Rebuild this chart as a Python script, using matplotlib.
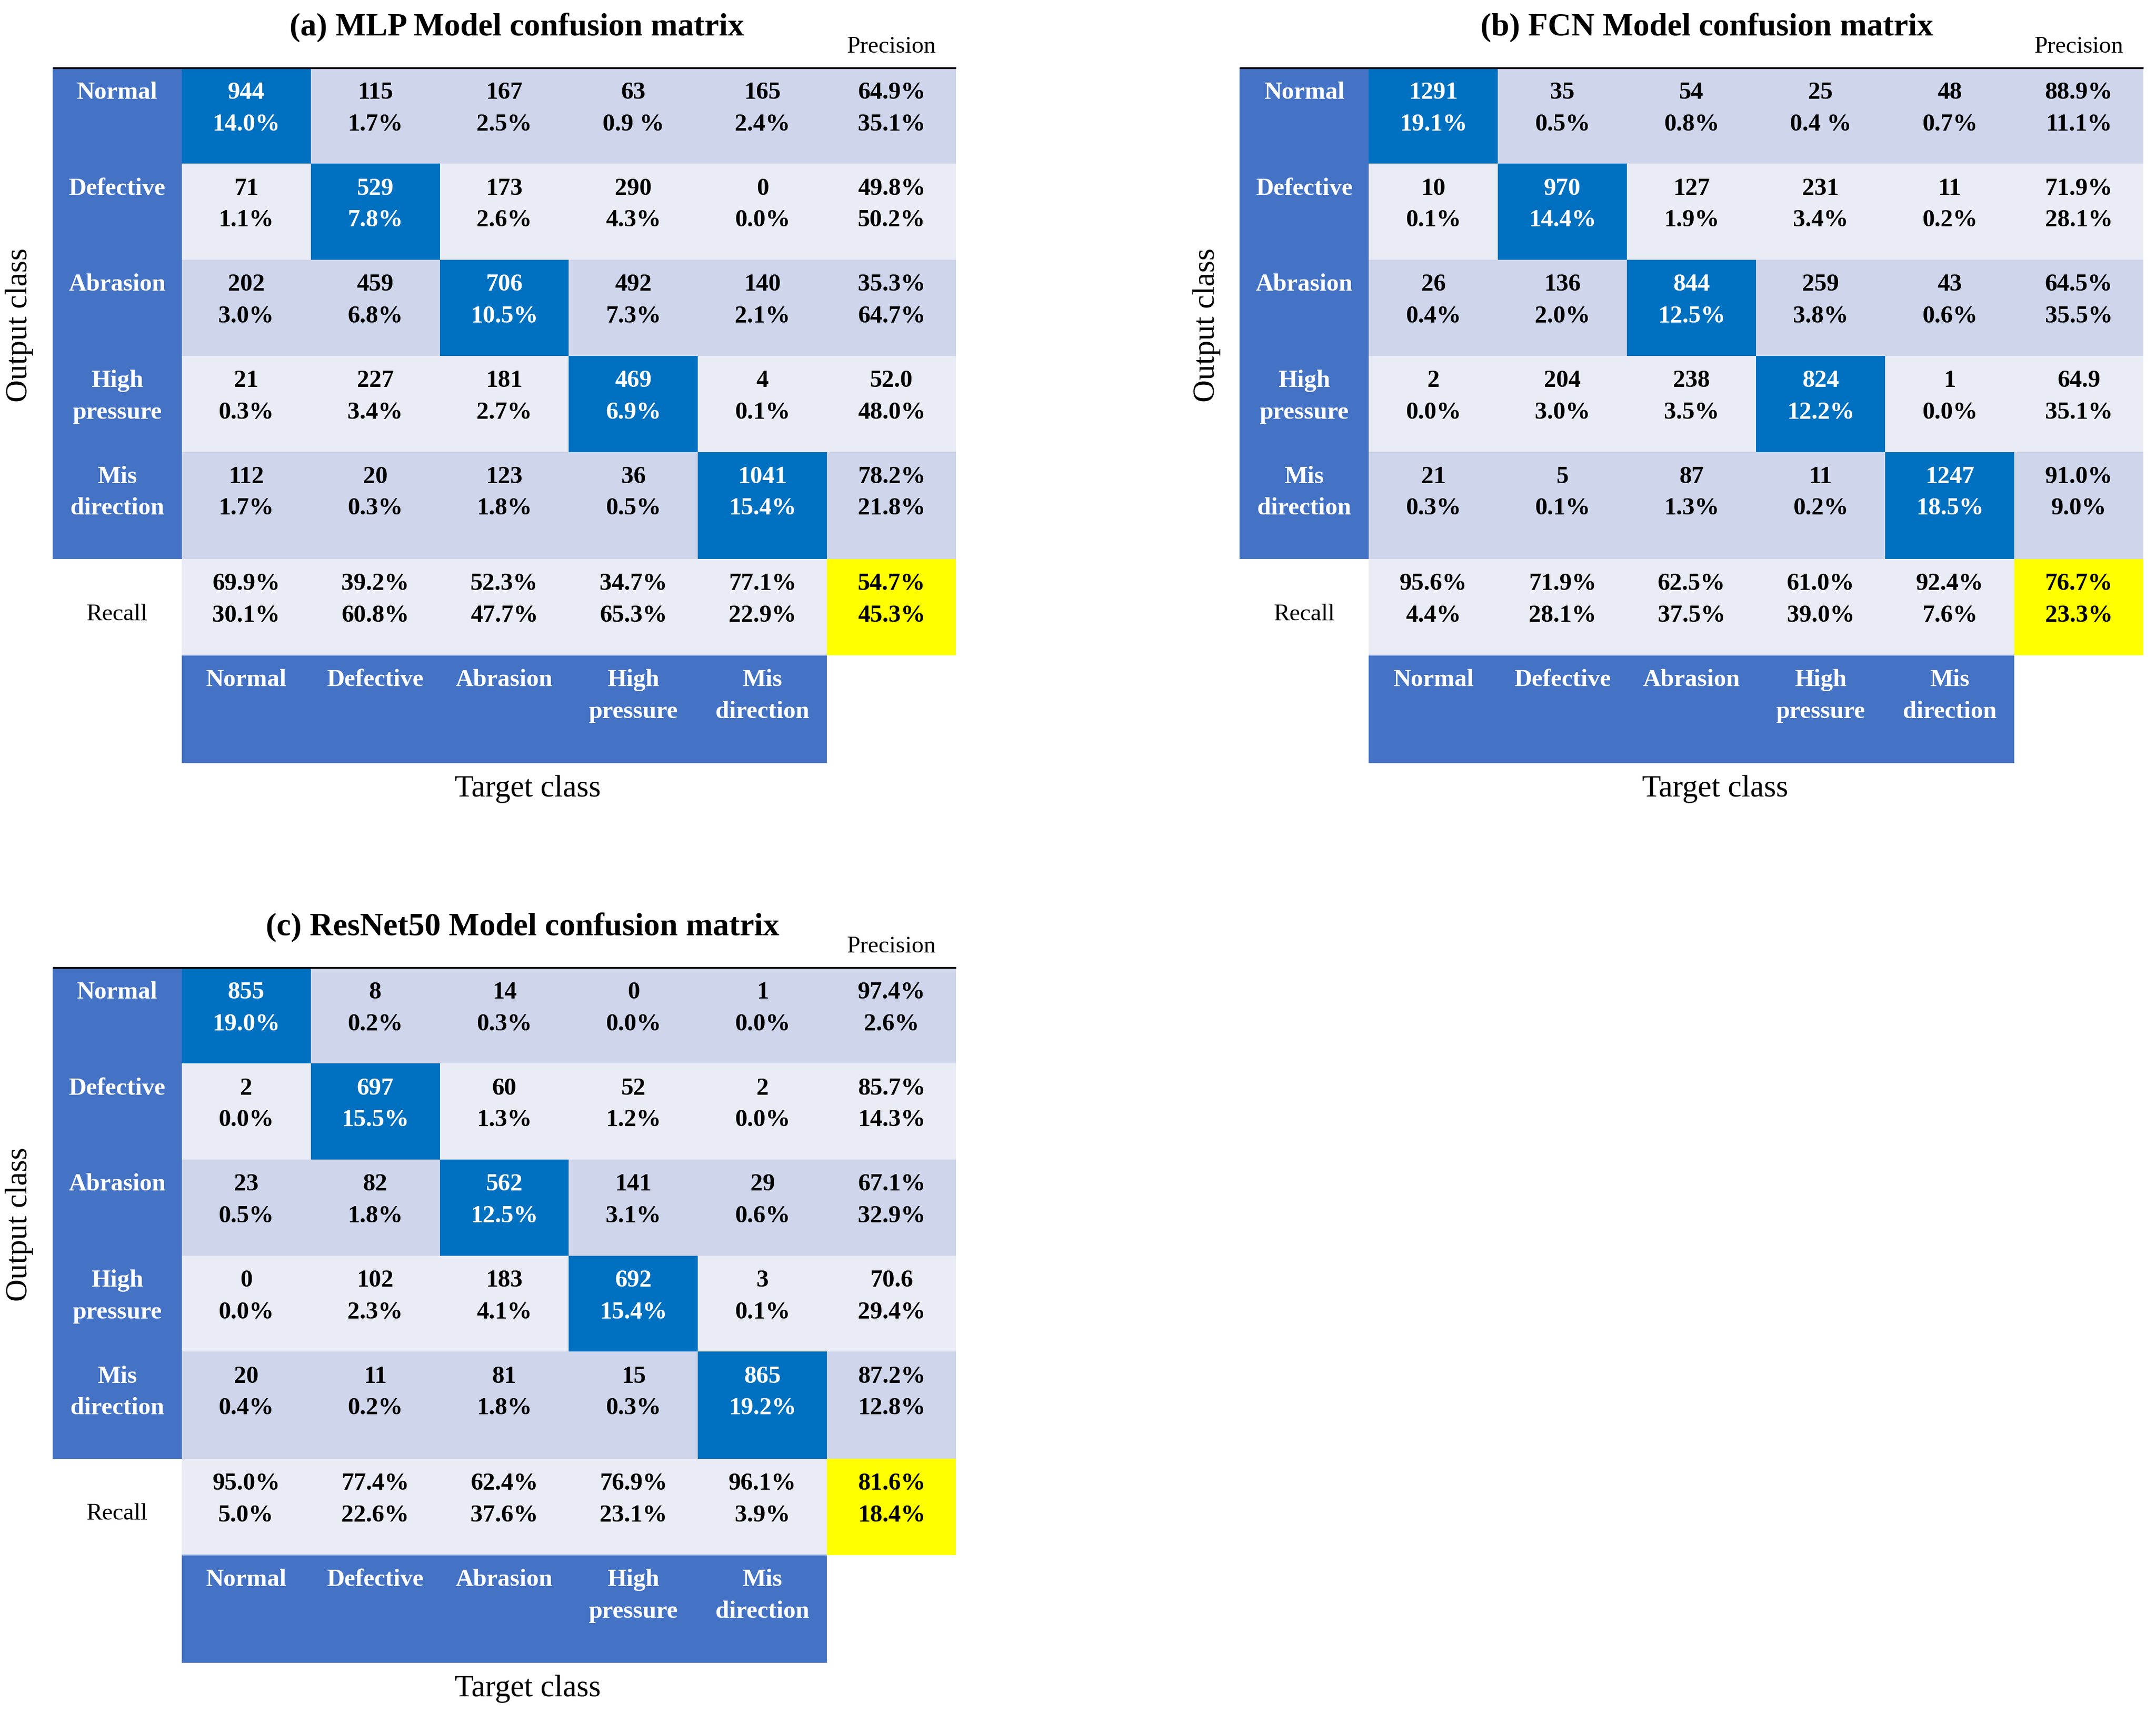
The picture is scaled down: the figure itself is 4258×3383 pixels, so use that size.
import matplotlib
matplotlib.use("Agg")
import matplotlib.pyplot as plt

# ---------------- data ----------------
classes = ["Normal", "Defective", "Abrasion", "High\npressure", "Mis\ndirection"]

mlp_title = "(a) MLP Model confusion matrix"
mlp_counts = [[944, 115, 167, 63, 165],
              [71, 529, 173, 290, 0],
              [202, 459, 706, 492, 140],
              [21, 227, 181, 469, 4],
              [112, 20, 123, 36, 1041]]
mlp_pct = [["14.0%", "1.7%", "2.5%", "0.9 %", "2.4%"],
           ["1.1%", "7.8%", "2.6%", "4.3%", "0.0%"],
           ["3.0%", "6.8%", "10.5%", "7.3%", "2.1%"],
           ["0.3%", "3.4%", "2.7%", "6.9%", "0.1%"],
           ["1.7%", "0.3%", "1.8%", "0.5%", "15.4%"]]
mlp_precision = [["64.9%", "35.1%"], ["49.8%", "50.2%"], ["35.3%", "64.7%"],
                 ["52.0", "48.0%"], ["78.2%", "21.8%"]]
mlp_recall = [["69.9%", "30.1%"], ["39.2%", "60.8%"], ["52.3%", "47.7%"],
              ["34.7%", "65.3%"], ["77.1%", "22.9%"]]
mlp_overall = ["54.7%", "45.3%"]

fcn_title = "(b) FCN Model confusion matrix"
fcn_counts = [[1291, 35, 54, 25, 48],
              [10, 970, 127, 231, 11],
              [26, 136, 844, 259, 43],
              [2, 204, 238, 824, 1],
              [21, 5, 87, 11, 1247]]
fcn_pct = [["19.1%", "0.5%", "0.8%", "0.4 %", "0.7%"],
           ["0.1%", "14.4%", "1.9%", "3.4%", "0.2%"],
           ["0.4%", "2.0%", "12.5%", "3.8%", "0.6%"],
           ["0.0%", "3.0%", "3.5%", "12.2%", "0.0%"],
           ["0.3%", "0.1%", "1.3%", "0.2%", "18.5%"]]
fcn_precision = [["88.9%", "11.1%"], ["71.9%", "28.1%"], ["64.5%", "35.5%"],
                 ["64.9", "35.1%"], ["91.0%", "9.0%"]]
fcn_recall = [["95.6%", "4.4%"], ["71.9%", "28.1%"], ["62.5%", "37.5%"],
              ["61.0%", "39.0%"], ["92.4%", "7.6%"]]
fcn_overall = ["76.7%", "23.3%"]

res_title = "(c) ResNet50 Model confusion matrix"
res_counts = [[855, 8, 14, 0, 1],
              [2, 697, 60, 52, 2],
              [23, 82, 562, 141, 29],
              [0, 102, 183, 692, 3],
              [20, 11, 81, 15, 865]]
res_pct = [["19.0%", "0.2%", "0.3%", "0.0%", "0.0%"],
           ["0.0%", "15.5%", "1.3%", "1.2%", "0.0%"],
           ["0.5%", "1.8%", "12.5%", "3.1%", "0.6%"],
           ["0.0%", "2.3%", "4.1%", "15.4%", "0.1%"],
           ["0.4%", "0.2%", "1.8%", "0.3%", "19.2%"]]
res_precision = [["97.4%", "2.6%"], ["85.7%", "14.3%"], ["67.1%", "32.9%"],
                 ["70.6", "29.4%"], ["87.2%", "12.8%"]]
res_recall = [["95.0%", "5.0%"], ["77.4%", "22.6%"], ["62.4%", "37.6%"],
              ["76.9%", "23.1%"], ["96.1%", "3.9%"]]
res_overall = ["81.6%", "18.4%"]

# ---------------- style ----------------
HEAD = "#4472C4"
DIAG = "#0070C0"
DARK = "#CFD5EA"
LIGHT = "#E9EBF5"
YEL = "#FFFF00"
FONT = "Liberation Serif"

W, H = 1560.0, 1239.4           # reference layout units
fig = plt.figure(figsize=(42.58, 33.83), dpi=100)

CW = 93.4                        # column width (layout units)
row_h = [69.5, 69.5, 69.5, 69.5, 77.5, 69.5, 78.0]
row_top = [sum(row_h[:i]) for i in range(len(row_h))]
GW = 7 * CW
GH = sum(row_h)
L1, L2 = 18.0, 41.0              # text line offsets within a row
FS = 35


def panel(x0, y0, title, counts, pct, precision, recall, overall, title_dx):
    ax = fig.add_axes([x0 / W, 1 - (y0 + GH) / H, GW / W, GH / H])
    ax.set_xlim(0, GW)
    ax.set_ylim(GH, 0)
    ax.axis("off")

    def cell(r, c, color):
        ax.bar(c * CW, row_h[r], width=CW, bottom=row_top[r], align="edge",
               color=color, edgecolor="none", linewidth=0)

    def txt(r, c, lines, color="black", bold=True, fs=FS):
        for k, s in enumerate(lines):
            ax.text((c + 0.5) * CW, row_top[r] + (L1 if k == 0 else L2), s,
                    ha="center", va="center", color=color, fontsize=fs,
                    family=FONT, fontweight="bold" if bold else "normal")

    n = len(classes)
    for r in range(n):
        band = DARK if r % 2 == 0 else LIGHT
        cell(r, 0, HEAD)
        txt(r, 0, classes[r].split("\n"), color="white")
        for c in range(n):
            diag = (r == c)
            cell(r, c + 1, DIAG if diag else band)
            txt(r, c + 1, [str(counts[r][c]), pct[r][c]],
                color="white" if diag else "black")
        cell(r, n + 1, band)
        txt(r, n + 1, precision[r])
    # recall row
    rr = n
    for c in range(n):
        cell(rr, c + 1, LIGHT)
        txt(rr, c + 1, recall[c])
    cell(rr, n + 1, YEL)
    txt(rr, n + 1, overall)
    ax.text(0.5 * CW, row_top[rr] + L2 - 1, "Recall", ha="center", va="center",
            fontsize=34, family=FONT, color="black")
    # bottom header row
    rb = n + 1
    for c in range(n):
        cell(rb, c + 1, HEAD)
        txt(rb, c + 1, classes[c].split("\n"), color="white")
    ax.plot([c * CW for c in (1, n + 1)], [row_top[rb]] * 2, color="#9DB5E2",
            lw=1.5, solid_capstyle="butt")
    ax.plot([c * CW for c in (1, n + 1)], [GH] * 2, color="#5A7FBF",
            lw=2, solid_capstyle="butt")
    # top rule
    ax.plot([0, GW], [0, 0], color="black", lw=2.5, solid_capstyle="butt",
            clip_on=False)

    ax.text(title_dx, -29, title, ha="center", va="center", fontsize=46,
            family=FONT, fontweight="bold", clip_on=False)
    ax.text(6.5 * CW, -15, "Precision", ha="center", va="center", fontsize=34,
            family=FONT, clip_on=False)
    ax.text(344, GH + 19, "Target class", ha="center", va="center",
            fontsize=44, family=FONT, clip_on=False)
    ax.text(-24, 186, "Output class", ha="center", va="center", rotation=90,
            fontsize=44, family=FONT, clip_on=False)


panel(38, 49, mlp_title, mlp_counts, mlp_pct, mlp_precision, mlp_recall,
      mlp_overall, 336)
panel(897, 49, fcn_title, fcn_counts, fcn_pct, fcn_precision, fcn_recall,
      fcn_overall, 338)
panel(38, 700, res_title, res_counts, res_pct, res_precision, res_recall,
      res_overall, 340)

fig.savefig("out.png", dpi=100, facecolor="white")
